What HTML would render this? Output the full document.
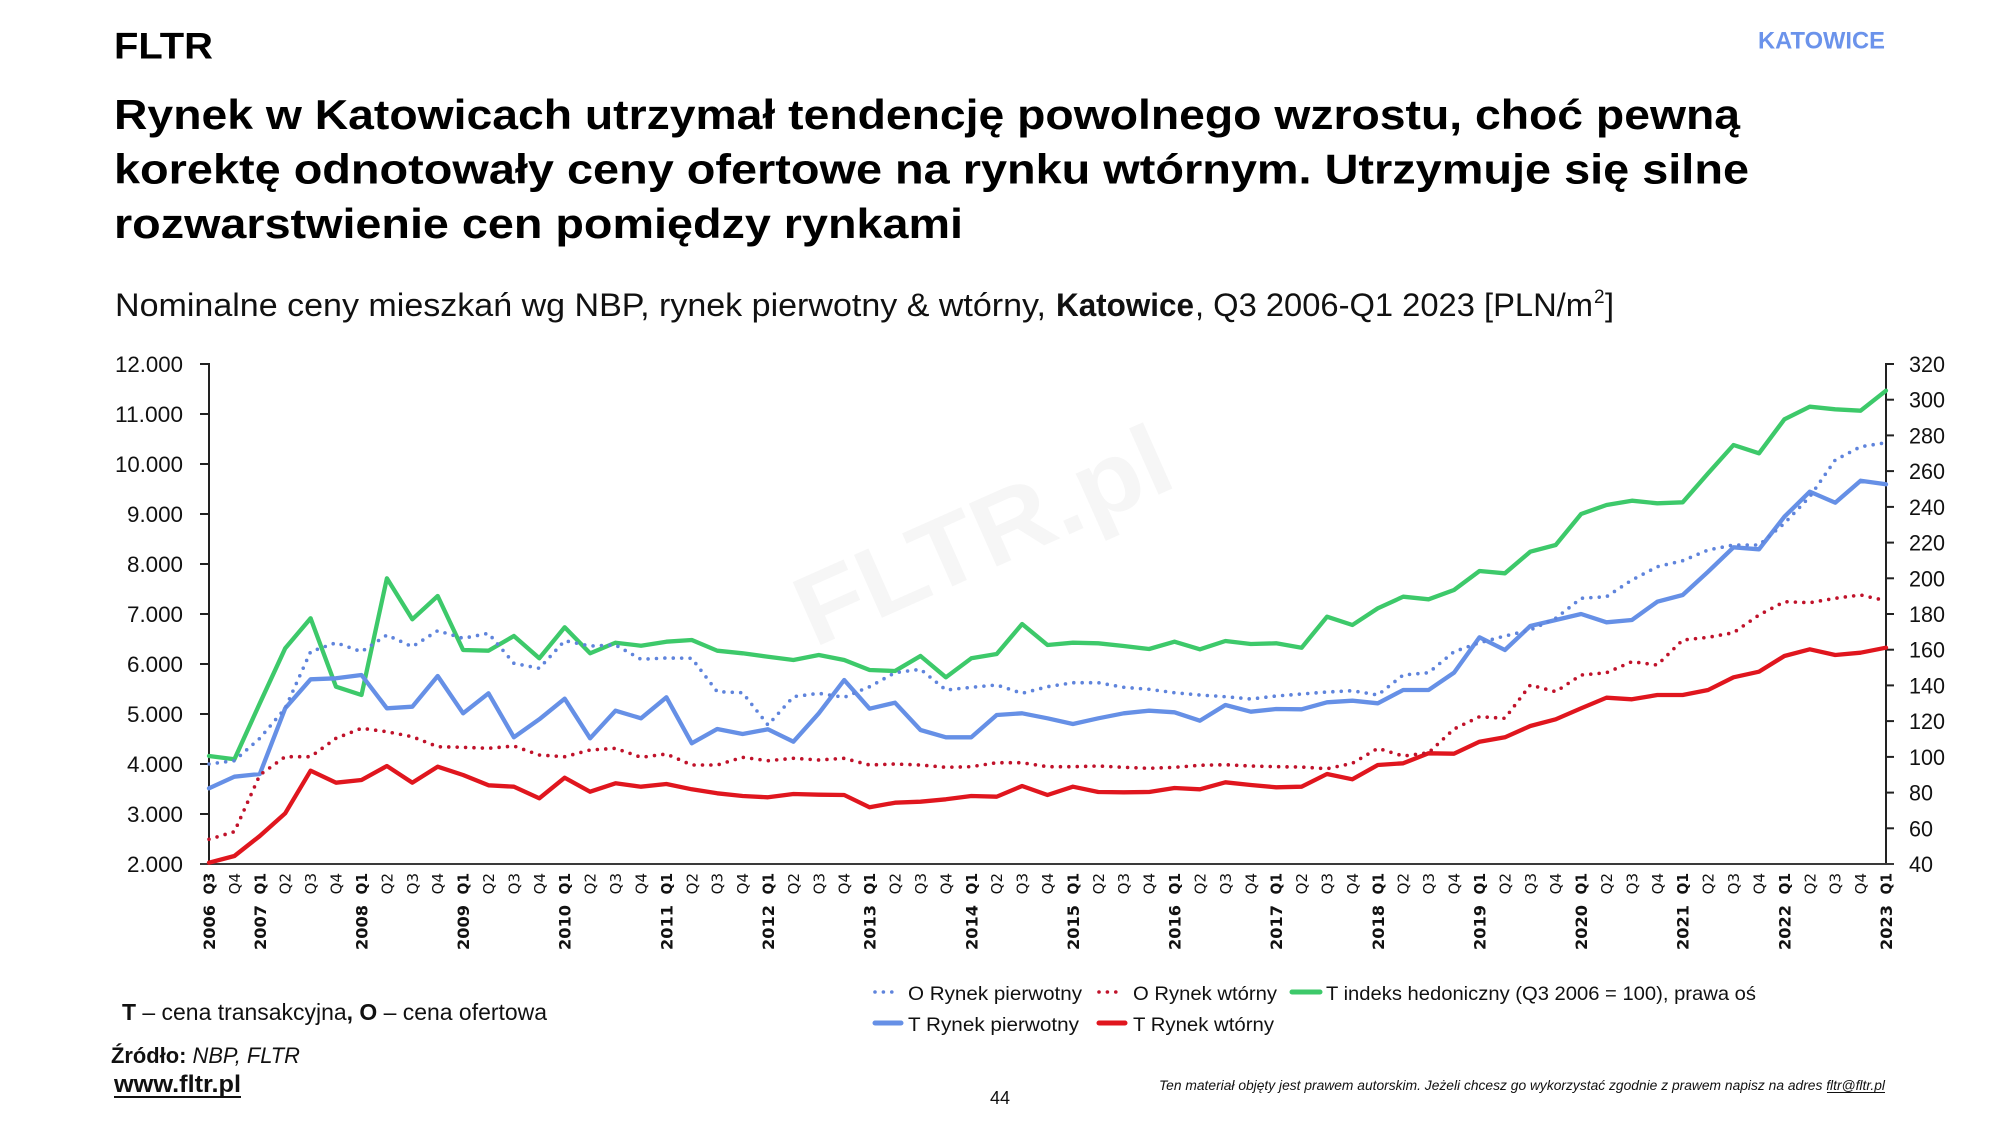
<!DOCTYPE html>
<html><head><meta charset="utf-8"><title>Katowice</title>
<style>
html,body{margin:0;padding:0;background:#fff;}
svg{display:block;}
.t{font-family:"Liberation Sans",Arial,sans-serif;}
.ax{font-family:"Liberation Sans",Arial,sans-serif;font-size:22px;fill:#111;}
.q{font-family:"DejaVu Sans",Verdana,sans-serif;font-size:15px;fill:#111;}
.qb{font-family:"DejaVu Sans",Verdana,sans-serif;font-size:15px;font-weight:bold;fill:#111;}
.yr{font-family:"DejaVu Sans",Verdana,sans-serif;font-size:16px;font-weight:bold;fill:#111;}
.lg{font-family:"Liberation Sans",Arial,sans-serif;font-size:19.5px;fill:#111;}
</style></head>
<body>
<svg width="2000" height="1125" viewBox="0 0 2000 1125" xmlns="http://www.w3.org/2000/svg">
<rect width="2000" height="1125" fill="#fff"/>

<!-- watermark -->
<text class="t" x="0" y="0" transform="translate(814,648) rotate(-24)" font-size="100" font-weight="bold" fill="#f6f6f6" textLength="400" lengthAdjust="spacingAndGlyphs">FLTR.pl</text>

<!-- header -->
<text class="t" x="114" y="58.5" font-size="37" font-weight="bold" fill="#000" textLength="99" lengthAdjust="spacingAndGlyphs">FLTR</text>
<text class="t" x="1758" y="48.5" font-size="24.5" font-weight="bold" fill="#6B93EB" textLength="127" lengthAdjust="spacingAndGlyphs">KATOWICE</text>

<text class="t" x="114" y="129" font-size="42" font-weight="bold" fill="#000" textLength="1626" lengthAdjust="spacingAndGlyphs">Rynek w Katowicach utrzymał tendencję powolnego wzrostu, choć pewną</text>
<text class="t" x="114" y="183.5" font-size="42" font-weight="bold" fill="#000" textLength="1635" lengthAdjust="spacingAndGlyphs">korektę odnotowały ceny ofertowe na rynku wtórnym. Utrzymuje się silne</text>
<text class="t" x="114" y="238" font-size="42" font-weight="bold" fill="#000" textLength="849" lengthAdjust="spacingAndGlyphs">rozwarstwienie cen pomiędzy rynkami</text>

<text class="t" x="115" y="316" font-size="32" fill="#111" textLength="931" lengthAdjust="spacingAndGlyphs">Nominalne ceny mieszkań wg NBP, rynek pierwotny &amp; wtórny,</text>
<text class="t" x="1056" y="316" font-size="32" font-weight="bold" fill="#111" textLength="138" lengthAdjust="spacingAndGlyphs">Katowice</text>
<text class="t" x="1195" y="316" font-size="32" fill="#111" textLength="398" lengthAdjust="spacingAndGlyphs">, Q3 2006-Q1 2023 [PLN/m</text>
<text class="t" x="1594" y="303" font-size="19" fill="#111">2</text>
<text class="t" x="1605" y="316" font-size="32" fill="#111" textLength="9" lengthAdjust="spacingAndGlyphs">]</text>

<!-- axes -->
<g stroke="#222" stroke-width="2" fill="none">
<line x1="209" y1="363" x2="209" y2="864"/>
<line x1="1886" y1="363" x2="1886" y2="864"/>
<line x1="200" y1="864" x2="1894" y2="864" stroke="#3a3a3a"/>
<line x1="200" y1="364" x2="209" y2="364"/>
<line x1="200" y1="414" x2="209" y2="414"/>
<line x1="200" y1="464" x2="209" y2="464"/>
<line x1="200" y1="514" x2="209" y2="514"/>
<line x1="200" y1="564" x2="209" y2="564"/>
<line x1="200" y1="614" x2="209" y2="614"/>
<line x1="200" y1="664" x2="209" y2="664"/>
<line x1="200" y1="714" x2="209" y2="714"/>
<line x1="200" y1="764" x2="209" y2="764"/>
<line x1="200" y1="814" x2="209" y2="814"/>
<line x1="1886" y1="364" x2="1894" y2="364"/>
<line x1="1886" y1="399.7" x2="1894" y2="399.7"/>
<line x1="1886" y1="435.4" x2="1894" y2="435.4"/>
<line x1="1886" y1="471.1" x2="1894" y2="471.1"/>
<line x1="1886" y1="506.9" x2="1894" y2="506.9"/>
<line x1="1886" y1="542.6" x2="1894" y2="542.6"/>
<line x1="1886" y1="578.3" x2="1894" y2="578.3"/>
<line x1="1886" y1="614" x2="1894" y2="614"/>
<line x1="1886" y1="649.7" x2="1894" y2="649.7"/>
<line x1="1886" y1="685.4" x2="1894" y2="685.4"/>
<line x1="1886" y1="721.1" x2="1894" y2="721.1"/>
<line x1="1886" y1="756.9" x2="1894" y2="756.9"/>
<line x1="1886" y1="792.6" x2="1894" y2="792.6"/>
<line x1="1886" y1="828.3" x2="1894" y2="828.3"/>
</g>

<!-- left labels -->
<g class="ax" text-anchor="end">
<text x="183" y="372" textLength="68" lengthAdjust="spacingAndGlyphs">12.000</text>
<text x="183" y="422" textLength="68" lengthAdjust="spacingAndGlyphs">11.000</text>
<text x="183" y="472" textLength="68" lengthAdjust="spacingAndGlyphs">10.000</text>
<text x="183" y="522" textLength="56" lengthAdjust="spacingAndGlyphs">9.000</text>
<text x="183" y="572" textLength="56" lengthAdjust="spacingAndGlyphs">8.000</text>
<text x="183" y="622" textLength="56" lengthAdjust="spacingAndGlyphs">7.000</text>
<text x="183" y="672" textLength="56" lengthAdjust="spacingAndGlyphs">6.000</text>
<text x="183" y="722" textLength="56" lengthAdjust="spacingAndGlyphs">5.000</text>
<text x="183" y="772" textLength="56" lengthAdjust="spacingAndGlyphs">4.000</text>
<text x="183" y="822" textLength="56" lengthAdjust="spacingAndGlyphs">3.000</text>
<text x="183" y="872" textLength="56" lengthAdjust="spacingAndGlyphs">2.000</text>
</g>
<!-- right labels -->
<g class="ax">
<text x="1909" y="372" textLength="36" lengthAdjust="spacingAndGlyphs">320</text>
<text x="1909" y="407.7" textLength="36" lengthAdjust="spacingAndGlyphs">300</text>
<text x="1909" y="443.4" textLength="36" lengthAdjust="spacingAndGlyphs">280</text>
<text x="1909" y="479.1" textLength="36" lengthAdjust="spacingAndGlyphs">260</text>
<text x="1909" y="514.9" textLength="36" lengthAdjust="spacingAndGlyphs">240</text>
<text x="1909" y="550.6" textLength="36" lengthAdjust="spacingAndGlyphs">220</text>
<text x="1909" y="586.3" textLength="36" lengthAdjust="spacingAndGlyphs">200</text>
<text x="1909" y="622" textLength="36" lengthAdjust="spacingAndGlyphs">180</text>
<text x="1909" y="657.7" textLength="36" lengthAdjust="spacingAndGlyphs">160</text>
<text x="1909" y="693.4" textLength="36" lengthAdjust="spacingAndGlyphs">140</text>
<text x="1909" y="729.1" textLength="36" lengthAdjust="spacingAndGlyphs">120</text>
<text x="1909" y="764.9" textLength="36" lengthAdjust="spacingAndGlyphs">100</text>
<text x="1909" y="800.6" textLength="24" lengthAdjust="spacingAndGlyphs">80</text>
<text x="1909" y="836.3" textLength="24" lengthAdjust="spacingAndGlyphs">60</text>
<text x="1909" y="872" textLength="24" lengthAdjust="spacingAndGlyphs">40</text>
</g>

<!-- x quarter labels -->
<g text-anchor="end">
<text class="qb" transform="translate(214.5,873) rotate(-90)" textLength="21.5" lengthAdjust="spacingAndGlyphs">Q3</text>
<text class="q" transform="translate(239.9,873) rotate(-90)">Q4</text>
<text class="qb" transform="translate(265.3,873) rotate(-90)" textLength="21.5" lengthAdjust="spacingAndGlyphs">Q1</text>
<text class="q" transform="translate(290.7,873) rotate(-90)">Q2</text>
<text class="q" transform="translate(316.1,873) rotate(-90)">Q3</text>
<text class="q" transform="translate(341.5,873) rotate(-90)">Q4</text>
<text class="qb" transform="translate(367.0,873) rotate(-90)" textLength="21.5" lengthAdjust="spacingAndGlyphs">Q1</text>
<text class="q" transform="translate(392.4,873) rotate(-90)">Q2</text>
<text class="q" transform="translate(417.8,873) rotate(-90)">Q3</text>
<text class="q" transform="translate(443.2,873) rotate(-90)">Q4</text>
<text class="qb" transform="translate(468.6,873) rotate(-90)" textLength="21.5" lengthAdjust="spacingAndGlyphs">Q1</text>
<text class="q" transform="translate(494.0,873) rotate(-90)">Q2</text>
<text class="q" transform="translate(519.4,873) rotate(-90)">Q3</text>
<text class="q" transform="translate(544.8,873) rotate(-90)">Q4</text>
<text class="qb" transform="translate(570.2,873) rotate(-90)" textLength="21.5" lengthAdjust="spacingAndGlyphs">Q1</text>
<text class="q" transform="translate(595.6,873) rotate(-90)">Q2</text>
<text class="q" transform="translate(621.0,873) rotate(-90)">Q3</text>
<text class="q" transform="translate(646.5,873) rotate(-90)">Q4</text>
<text class="qb" transform="translate(671.9,873) rotate(-90)" textLength="21.5" lengthAdjust="spacingAndGlyphs">Q1</text>
<text class="q" transform="translate(697.3,873) rotate(-90)">Q2</text>
<text class="q" transform="translate(722.7,873) rotate(-90)">Q3</text>
<text class="q" transform="translate(748.1,873) rotate(-90)">Q4</text>
<text class="qb" transform="translate(773.5,873) rotate(-90)" textLength="21.5" lengthAdjust="spacingAndGlyphs">Q1</text>
<text class="q" transform="translate(798.9,873) rotate(-90)">Q2</text>
<text class="q" transform="translate(824.3,873) rotate(-90)">Q3</text>
<text class="q" transform="translate(849.7,873) rotate(-90)">Q4</text>
<text class="qb" transform="translate(875.1,873) rotate(-90)" textLength="21.5" lengthAdjust="spacingAndGlyphs">Q1</text>
<text class="q" transform="translate(900.5,873) rotate(-90)">Q2</text>
<text class="q" transform="translate(926.0,873) rotate(-90)">Q3</text>
<text class="q" transform="translate(951.4,873) rotate(-90)">Q4</text>
<text class="qb" transform="translate(976.8,873) rotate(-90)" textLength="21.5" lengthAdjust="spacingAndGlyphs">Q1</text>
<text class="q" transform="translate(1002.2,873) rotate(-90)">Q2</text>
<text class="q" transform="translate(1027.6,873) rotate(-90)">Q3</text>
<text class="q" transform="translate(1053.0,873) rotate(-90)">Q4</text>
<text class="qb" transform="translate(1078.4,873) rotate(-90)" textLength="21.5" lengthAdjust="spacingAndGlyphs">Q1</text>
<text class="q" transform="translate(1103.8,873) rotate(-90)">Q2</text>
<text class="q" transform="translate(1129.2,873) rotate(-90)">Q3</text>
<text class="q" transform="translate(1154.6,873) rotate(-90)">Q4</text>
<text class="qb" transform="translate(1180.0,873) rotate(-90)" textLength="21.5" lengthAdjust="spacingAndGlyphs">Q1</text>
<text class="q" transform="translate(1205.4,873) rotate(-90)">Q2</text>
<text class="q" transform="translate(1230.9,873) rotate(-90)">Q3</text>
<text class="q" transform="translate(1256.3,873) rotate(-90)">Q4</text>
<text class="qb" transform="translate(1281.7,873) rotate(-90)" textLength="21.5" lengthAdjust="spacingAndGlyphs">Q1</text>
<text class="q" transform="translate(1307.1,873) rotate(-90)">Q2</text>
<text class="q" transform="translate(1332.5,873) rotate(-90)">Q3</text>
<text class="q" transform="translate(1357.9,873) rotate(-90)">Q4</text>
<text class="qb" transform="translate(1383.3,873) rotate(-90)" textLength="21.5" lengthAdjust="spacingAndGlyphs">Q1</text>
<text class="q" transform="translate(1408.7,873) rotate(-90)">Q2</text>
<text class="q" transform="translate(1434.1,873) rotate(-90)">Q3</text>
<text class="q" transform="translate(1459.5,873) rotate(-90)">Q4</text>
<text class="qb" transform="translate(1485.0,873) rotate(-90)" textLength="21.5" lengthAdjust="spacingAndGlyphs">Q1</text>
<text class="q" transform="translate(1510.4,873) rotate(-90)">Q2</text>
<text class="q" transform="translate(1535.8,873) rotate(-90)">Q3</text>
<text class="q" transform="translate(1561.2,873) rotate(-90)">Q4</text>
<text class="qb" transform="translate(1586.6,873) rotate(-90)" textLength="21.5" lengthAdjust="spacingAndGlyphs">Q1</text>
<text class="q" transform="translate(1612.0,873) rotate(-90)">Q2</text>
<text class="q" transform="translate(1637.4,873) rotate(-90)">Q3</text>
<text class="q" transform="translate(1662.8,873) rotate(-90)">Q4</text>
<text class="qb" transform="translate(1688.2,873) rotate(-90)" textLength="21.5" lengthAdjust="spacingAndGlyphs">Q1</text>
<text class="q" transform="translate(1713.6,873) rotate(-90)">Q2</text>
<text class="q" transform="translate(1739.0,873) rotate(-90)">Q3</text>
<text class="q" transform="translate(1764.5,873) rotate(-90)">Q4</text>
<text class="qb" transform="translate(1789.9,873) rotate(-90)" textLength="21.5" lengthAdjust="spacingAndGlyphs">Q1</text>
<text class="q" transform="translate(1815.3,873) rotate(-90)">Q2</text>
<text class="q" transform="translate(1840.7,873) rotate(-90)">Q3</text>
<text class="q" transform="translate(1866.1,873) rotate(-90)">Q4</text>
<text class="qb" transform="translate(1891.5,873) rotate(-90)" textLength="21.5" lengthAdjust="spacingAndGlyphs">Q1</text>
</g>
<!-- year labels -->
<g text-anchor="end">
<text class="yr" transform="translate(215,905) rotate(-90)" textLength="45" lengthAdjust="spacingAndGlyphs">2006</text>
<text class="yr" transform="translate(265.8,905) rotate(-90)" textLength="45" lengthAdjust="spacingAndGlyphs">2007</text>
<text class="yr" transform="translate(367.5,905) rotate(-90)" textLength="45" lengthAdjust="spacingAndGlyphs">2008</text>
<text class="yr" transform="translate(469.1,905) rotate(-90)" textLength="45" lengthAdjust="spacingAndGlyphs">2009</text>
<text class="yr" transform="translate(570.7,905) rotate(-90)" textLength="45" lengthAdjust="spacingAndGlyphs">2010</text>
<text class="yr" transform="translate(672.4,905) rotate(-90)" textLength="45" lengthAdjust="spacingAndGlyphs">2011</text>
<text class="yr" transform="translate(774.0,905) rotate(-90)" textLength="45" lengthAdjust="spacingAndGlyphs">2012</text>
<text class="yr" transform="translate(875.6,905) rotate(-90)" textLength="45" lengthAdjust="spacingAndGlyphs">2013</text>
<text class="yr" transform="translate(977.3,905) rotate(-90)" textLength="45" lengthAdjust="spacingAndGlyphs">2014</text>
<text class="yr" transform="translate(1078.9,905) rotate(-90)" textLength="45" lengthAdjust="spacingAndGlyphs">2015</text>
<text class="yr" transform="translate(1180.5,905) rotate(-90)" textLength="45" lengthAdjust="spacingAndGlyphs">2016</text>
<text class="yr" transform="translate(1282.2,905) rotate(-90)" textLength="45" lengthAdjust="spacingAndGlyphs">2017</text>
<text class="yr" transform="translate(1383.8,905) rotate(-90)" textLength="45" lengthAdjust="spacingAndGlyphs">2018</text>
<text class="yr" transform="translate(1485.5,905) rotate(-90)" textLength="45" lengthAdjust="spacingAndGlyphs">2019</text>
<text class="yr" transform="translate(1587.1,905) rotate(-90)" textLength="45" lengthAdjust="spacingAndGlyphs">2020</text>
<text class="yr" transform="translate(1688.7,905) rotate(-90)" textLength="45" lengthAdjust="spacingAndGlyphs">2021</text>
<text class="yr" transform="translate(1790.4,905) rotate(-90)" textLength="45" lengthAdjust="spacingAndGlyphs">2022</text>
<text class="yr" transform="translate(1892,905) rotate(-90)" textLength="45" lengthAdjust="spacingAndGlyphs">2023</text>
</g>

<!-- series -->
<g fill="none" stroke-linejoin="round" stroke-linecap="round">
<polyline stroke="#3DC96A" stroke-width="4.3" points="209,756.0 234.4,759.3 259.8,703.3 285.2,648.3 310.6,618.3 336.0,686.7 361.5,695.0 386.9,578.3 412.3,619.3 437.7,596.0 463.1,650.0 488.5,650.7 513.9,636.0 539.3,658.3 564.7,627.3 590.1,653.3 615.5,642.7 641.0,645.7 666.4,641.7 691.8,640.0 717.2,650.7 742.6,653.3 768.0,656.7 793.4,660.0 818.8,655.0 844.2,660.0 869.6,670.0 895.0,671.0 920.5,656.0 945.9,677.3 971.3,658.3 996.7,654.0 1022.1,624.0 1047.5,645.0 1072.9,642.7 1098.3,643.3 1123.7,646.0 1149.1,649.0 1174.5,641.7 1199.9,649.3 1225.4,641.0 1250.8,644.0 1276.2,643.3 1301.6,647.7 1327.0,616.7 1352.4,625.0 1377.8,608.3 1403.2,596.7 1428.6,599.3 1454.0,590.0 1479.5,571.0 1504.9,573.3 1530.3,551.7 1555.7,545.0 1581.1,514.0 1606.5,505.0 1631.9,500.7 1657.3,503.3 1682.7,502.3 1708.1,473.3 1733.5,445.0 1759.0,453.3 1784.4,419.3 1809.8,406.7 1835.2,409.3 1860.6,410.7 1886.0,390.7"/>
<polyline stroke="#6690E6" stroke-width="4.3" points="209,788.3 234.4,776.7 259.8,774.0 285.2,708.3 310.6,679.3 336.0,678.3 361.5,675.0 386.9,708.3 412.3,706.7 437.7,676.0 463.1,713.3 488.5,693.3 513.9,737.3 539.3,719.3 564.7,698.7 590.1,738.3 615.5,710.7 641.0,718.3 666.4,697.3 691.8,743.3 717.2,729.0 742.6,734.0 768.0,729.3 793.4,741.7 818.8,713.3 844.2,680.0 869.6,708.7 895.0,702.7 920.5,730.0 945.9,737.3 971.3,737.3 996.7,715.0 1022.1,713.3 1047.5,718.3 1072.9,724.0 1098.3,718.3 1123.7,713.3 1149.1,710.7 1174.5,712.3 1199.9,720.7 1225.4,705.0 1250.8,711.7 1276.2,709.0 1301.6,709.3 1327.0,702.3 1352.4,700.7 1377.8,703.3 1403.2,690.0 1428.6,690.0 1454.0,672.7 1479.5,637.3 1504.9,650.0 1530.3,626.0 1555.7,620.0 1581.1,614.0 1606.5,622.3 1631.9,620.0 1657.3,601.7 1682.7,595.0 1708.1,571.7 1733.5,547.3 1759.0,549.3 1784.4,516.7 1809.8,491.7 1835.2,502.7 1860.6,480.7 1886.0,484.3"/>
<polyline stroke="#E0161E" stroke-width="4.3" points="209,862.7 234.4,856.0 259.8,836.0 285.2,813.3 310.6,770.7 336.0,782.7 361.5,780.0 386.9,766.0 412.3,782.7 437.7,766.7 463.1,775.0 488.5,785.3 513.9,786.7 539.3,798.3 564.7,777.7 590.1,791.7 615.5,783.3 641.0,786.7 666.4,784.0 691.8,789.3 717.2,793.3 742.6,796.0 768.0,797.3 793.4,794.0 818.8,794.7 844.2,795.0 869.6,807.3 895.0,802.7 920.5,801.7 945.9,799.3 971.3,796.0 996.7,796.7 1022.1,786.0 1047.5,795.0 1072.9,786.7 1098.3,792.0 1123.7,792.3 1149.1,792.0 1174.5,788.0 1199.9,789.3 1225.4,782.3 1250.8,785.0 1276.2,787.3 1301.6,786.7 1327.0,774.0 1352.4,779.3 1377.8,765.0 1403.2,763.3 1428.6,753.3 1454.0,753.7 1479.5,741.7 1504.9,737.3 1530.3,726.0 1555.7,719.3 1581.1,708.3 1606.5,697.7 1631.9,699.3 1657.3,695.0 1682.7,695.0 1708.1,690.0 1733.5,677.3 1759.0,671.7 1784.4,656.0 1809.8,649.3 1835.2,655.0 1860.6,652.7 1886.0,647.7"/>
<polyline stroke="#5F84DC" stroke-width="3.6" stroke-dasharray="0 8.4" points="209,764.0 234.4,760.7 259.8,738.3 285.2,708.3 310.6,651.7 336.0,642.7 361.5,651.7 386.9,635.0 412.3,646.7 437.7,630.7 463.1,638.3 488.5,633.3 513.9,663.3 539.3,668.3 564.7,640.7 590.1,646.0 615.5,645.0 641.0,659.3 666.4,658.0 691.8,658.3 717.2,691.7 742.6,692.7 768.0,725.0 793.4,696.7 818.8,693.3 844.2,697.3 869.6,686.7 895.0,672.7 920.5,669.3 945.9,690.0 971.3,687.3 996.7,685.0 1022.1,693.3 1047.5,686.7 1072.9,682.7 1098.3,682.7 1123.7,687.3 1149.1,689.3 1174.5,692.7 1199.9,695.0 1225.4,696.7 1250.8,699.0 1276.2,696.0 1301.6,694.0 1327.0,692.0 1352.4,690.7 1377.8,695.0 1403.2,675.0 1428.6,672.7 1454.0,651.7 1479.5,642.7 1504.9,636.0 1530.3,630.0 1555.7,618.3 1581.1,598.3 1606.5,596.7 1631.9,580.0 1657.3,566.7 1682.7,560.7 1708.1,550.0 1733.5,545.0 1759.0,545.0 1784.4,523.3 1809.8,496.7 1835.2,460.0 1860.6,446.7 1886.0,442.7"/>
<polyline stroke="#C0122A" stroke-width="3.6" stroke-dasharray="0 8.4" points="209,839.3 234.4,831.7 259.8,775.0 285.2,756.7 310.6,756.7 336.0,738.3 361.5,728.3 386.9,731.7 412.3,736.7 437.7,746.7 463.1,747.3 488.5,748.3 513.9,746.0 539.3,755.0 564.7,756.7 590.1,750.0 615.5,748.3 641.0,757.3 666.4,754.0 691.8,765.0 717.2,765.0 742.6,757.3 768.0,760.7 793.4,758.3 818.8,760.0 844.2,758.3 869.6,765.0 895.0,764.0 920.5,765.0 945.9,767.3 971.3,766.7 996.7,762.7 1022.1,762.7 1047.5,766.7 1072.9,766.7 1098.3,766.0 1123.7,767.3 1149.1,768.3 1174.5,767.3 1199.9,765.3 1225.4,764.7 1250.8,766.0 1276.2,766.7 1301.6,767.0 1327.0,768.7 1352.4,763.3 1377.8,748.3 1403.2,756.0 1428.6,752.7 1454.0,729.0 1479.5,716.7 1504.9,718.3 1530.3,685.0 1555.7,691.7 1581.1,675.0 1606.5,672.7 1631.9,661.7 1657.3,665.0 1682.7,640.0 1708.1,637.3 1733.5,632.7 1759.0,615.0 1784.4,601.7 1809.8,602.7 1835.2,598.3 1860.6,595.0 1886.0,600.7"/>
</g>

<!-- legend -->
<g stroke-linecap="round" fill="none">
<line x1="875" y1="992" x2="894" y2="992" stroke="#5F84DC" stroke-width="3.6" stroke-dasharray="0 8.4"/>
<line x1="1099" y1="992" x2="1122" y2="992" stroke="#C0122A" stroke-width="3.6" stroke-dasharray="0 8.4"/>
<line x1="1292" y1="992" x2="1320" y2="992" stroke="#3DC96A" stroke-width="5"/>
<line x1="875" y1="1023" x2="901" y2="1023" stroke="#6690E6" stroke-width="5"/>
<line x1="1099" y1="1023" x2="1125" y2="1023" stroke="#E0161E" stroke-width="5"/>
</g>
<g class="lg">
<text x="908" y="1000" textLength="174" lengthAdjust="spacingAndGlyphs">O Rynek pierwotny</text>
<text x="1133" y="1000" textLength="144" lengthAdjust="spacingAndGlyphs">O Rynek wtórny</text>
<text x="1326" y="1000" textLength="430" lengthAdjust="spacingAndGlyphs">T indeks hedoniczny (Q3 2006 = 100), prawa oś</text>
<text x="908" y="1031" textLength="171" lengthAdjust="spacingAndGlyphs">T Rynek pierwotny</text>
<text x="1133" y="1031" textLength="141" lengthAdjust="spacingAndGlyphs">T Rynek wtórny</text>
</g>

<!-- notes -->
<text class="t" x="122" y="1020" font-size="23" fill="#111" textLength="425" lengthAdjust="spacingAndGlyphs"><tspan font-weight="bold">T</tspan> – cena transakcyjna<tspan font-weight="bold">, O</tspan> – cena ofertowa</text>
<text class="t" x="111" y="1063" font-size="22" fill="#111" textLength="189" lengthAdjust="spacingAndGlyphs"><tspan font-weight="bold">Źródło:</tspan> <tspan font-style="italic">NBP, FLTR</tspan></text>
<text class="t" x="114" y="1092" font-size="24" font-weight="bold" fill="#111" textLength="127" lengthAdjust="spacingAndGlyphs">www.fltr.pl</text>
<line x1="114" y1="1097" x2="241" y2="1097" stroke="#111" stroke-width="2"/>

<text class="t" x="990" y="1104" font-size="18" fill="#111" textLength="20" lengthAdjust="spacingAndGlyphs">44</text>

<text class="t" x="1159" y="1090" font-size="13.5" font-style="italic" fill="#111" textLength="726" lengthAdjust="spacingAndGlyphs">Ten materiał objęty jest prawem autorskim. Jeżeli chcesz go wykorzystać zgodnie z prawem napisz na adres fltr@fltr.pl</text>
<line x1="1827" y1="1092.5" x2="1885" y2="1092.5" stroke="#111" stroke-width="1"/>
</svg>
</body></html>
